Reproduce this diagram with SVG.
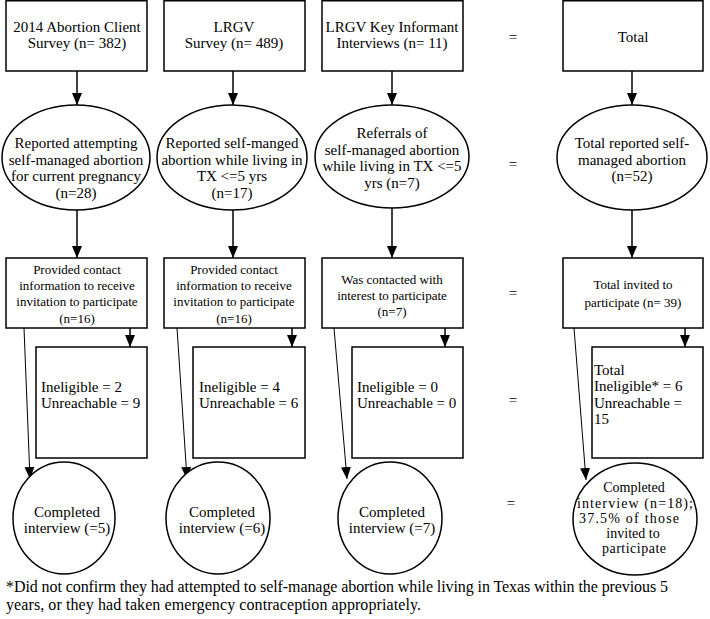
<svg xmlns="http://www.w3.org/2000/svg" width="710" height="619" viewBox="0 0 710 619">
<style>
  .box { fill: #fff; stroke: #000; stroke-width: 1.5; }
  .t { font-family: "Liberation Serif", "DejaVu Serif", serif; font-size: 15px; fill: #000; text-anchor: middle; }
  .s { font-size: 13px; }
  .m { font-size: 14px; }
  .f { font-size: 16px; }
  .l { text-anchor: start; }
  .c { stroke: #000; stroke-width: 1.5; fill: none; marker-end: url(#ah); }
  .d { stroke: #000; stroke-width: 1; fill: none; marker-end: url(#ah); }
</style>
<defs>
  <marker id="ah" markerUnits="userSpaceOnUse" markerWidth="12" markerHeight="12" viewBox="0 0 12 12" refX="12" refY="6" orient="auto">
    <path d="M0,1 L12,6 L0,11 z" fill="#000"/>
  </marker>
</defs>
<rect width="710" height="619" fill="#fff"/>

<g id="connectors">
  <line class="c" x1="77" y1="71" x2="77" y2="105"/>
  <line class="c" x1="233" y1="71" x2="233" y2="105"/>
  <line class="c" x1="392" y1="71" x2="392" y2="105"/>
  <line class="c" x1="632" y1="71" x2="632" y2="105"/>
  <line class="c" x1="77" y1="210" x2="77" y2="258"/>
  <line class="c" x1="233" y1="210" x2="233" y2="258"/>
  <line class="c" x1="392" y1="208" x2="392" y2="258"/>
  <line class="c" x1="632" y1="210" x2="632" y2="258"/>
  <line class="c" x1="130" y1="328" x2="130" y2="347"/>
  <line class="c" x1="292" y1="328" x2="292" y2="347"/>
  <line class="c" x1="445" y1="328" x2="445" y2="347"/>
  <line class="c" x1="685" y1="328" x2="685" y2="347"/>
  <line class="d" x1="24" y1="328" x2="30" y2="479"/>
  <line class="d" x1="177" y1="328" x2="187" y2="479"/>
  <line class="d" x1="334" y1="328" x2="347" y2="479"/>
  <line class="d" x1="574" y1="328" x2="586" y2="480"/>
</g>

<g id="n1"><rect class="box" x="6" y="0.75" width="141" height="70.25"/>
  <text class="t" x="77" y="32">2014 Abortion Client</text><text class="t" x="77" y="48">Survey (n= 382)</text></g>
<g id="n2"><rect class="box" x="164" y="0.75" width="141" height="70.25"/>
  <text class="t" x="234" y="32">LRGV</text><text class="t" x="234" y="48">Survey (n= 489)</text></g>
<g id="n3"><rect class="box" x="322" y="0.75" width="141" height="70.25"/>
  <text class="t" x="392" y="32">LRGV Key Informant</text><text class="t" x="392" y="48">Interviews (n= 11)</text></g>
<g id="eq1"><text class="t" x="513" y="42">=</text></g>
<g id="n4"><rect class="box" x="563" y="0.75" width="140" height="70.25"/>
  <text class="t" x="633" y="42">Total</text></g>

<g id="e1"><ellipse class="box" cx="76" cy="157.5" rx="74" ry="52.5"/>
  <text class="t" x="76" y="148">Reported attempting</text>
  <text class="t" x="76" y="164.5">self-managed abortion</text>
  <text class="t" x="76" y="181">for current pregnancy</text>
  <text class="t" x="76" y="197.5">(n=28)</text></g>
<g id="e2"><ellipse class="box" cx="232" cy="157.5" rx="75" ry="52.5"/>
  <text class="t" x="232" y="148">Reported self-manged</text>
  <text class="t" x="232" y="164.5">abortion while living in</text>
  <text class="t" x="232" y="181">TX &lt;=5 yrs</text>
  <text class="t" x="232" y="197.5">(n=17)</text></g>
<g id="e3"><ellipse class="box" cx="392" cy="156.5" rx="77" ry="51.5"/>
  <text class="t" x="392" y="138">Referrals of</text>
  <text class="t" x="392" y="154.5">self-managed abortion</text>
  <text class="t" x="392" y="171">while living in TX &lt;=5</text>
  <text class="t" x="392" y="187.5">yrs (n=7)</text></g>
<g id="eq2"><text class="t" x="513" y="169">=</text></g>
<g id="e4"><ellipse class="box" cx="632" cy="157.5" rx="75" ry="52.5"/>
  <text class="t" x="632" y="148">Total reported self-</text>
  <text class="t" x="632" y="164.5">managed abortion</text>
  <text class="t" x="632" y="181">(n=52)</text></g>

<g id="b1"><rect class="box" x="6" y="258" width="141" height="70"/>
  <text class="t s" x="77" y="274">Provided contact</text>
  <text class="t s" x="77" y="290">information to receive</text>
  <text class="t s" x="77" y="306">invitation to participate</text>
  <text class="t s" x="77" y="323">(n=16)</text></g>
<g id="b2"><rect class="box" x="164" y="258" width="141" height="70"/>
  <text class="t s" x="234" y="274">Provided contact</text>
  <text class="t s" x="234" y="290">information to receive</text>
  <text class="t s" x="234" y="306">invitation to participate</text>
  <text class="t s" x="234" y="323">(n=16)</text></g>
<g id="b3"><rect class="box" x="322" y="258" width="141" height="70"/>
  <text class="t s" x="392" y="284">Was contacted with</text>
  <text class="t s" x="392" y="300">interest to participate</text>
  <text class="t s" x="392" y="316">(n=7)</text></g>
<g id="eq3"><text class="t" x="513" y="298">=</text></g>
<g id="b4"><rect class="box" x="563" y="258" width="140" height="70"/>
  <text class="t s" x="633" y="289">Total invited to</text>
  <text class="t s" x="633" y="307">participate (n= 39)</text></g>

<g id="i1"><rect class="box" x="36" y="347" width="111" height="111"/>
  <text class="t l" x="41" y="392">Ineligible = 2</text>
  <text class="t l" x="41" y="408">Unreachable = 9</text></g>
<g id="i2"><rect class="box" x="193" y="347" width="112" height="111"/>
  <text class="t l" x="199" y="392">Ineligible = 4</text>
  <text class="t l" x="199" y="408">Unreachable = 6</text></g>
<g id="i3"><rect class="box" x="352" y="347" width="111" height="111"/>
  <text class="t l" x="357" y="392">Ineligible = 0</text>
  <text class="t l" x="357" y="408">Unreachable = 0</text></g>
<g id="eq4"><text class="t" x="513" y="405">=</text></g>
<g id="i4"><rect class="box" x="592" y="347" width="111" height="111"/>
  <text class="t l" x="594" y="375">Total</text>
  <text class="t l" x="594" y="391">Ineligible* = 6</text>
  <text class="t l" x="594" y="408">Unreachable =</text>
  <text class="t l" x="594" y="424">15</text></g>

<g id="c1"><ellipse class="box" cx="64" cy="518" rx="51" ry="56"/>
  <text class="t" x="67" y="517">Completed</text>
  <text class="t" x="67" y="533">interview (=5)</text></g>
<g id="c2"><ellipse class="box" cx="218" cy="518" rx="52" ry="56"/>
  <text class="t" x="222" y="517">Completed</text>
  <text class="t" x="222" y="533">interview (=6)</text></g>
<g id="c3"><ellipse class="box" cx="390" cy="518" rx="52" ry="56"/>
  <text class="t" x="392" y="517">Completed</text>
  <text class="t" x="392" y="533">interview (=7)</text></g>
<g id="eq5"><text class="t" x="511" y="508">=</text></g>
<g id="c4"><ellipse class="box" cx="635" cy="519" rx="62" ry="56"/>
  <text class="t m" x="634" y="492">Completed</text>
  <text class="t m" x="635" y="507.5" textLength="116">interview (n=18);</text>
  <text class="t m" x="629" y="523" textLength="100">37.5% of those</text>
  <text class="t m" x="633" y="538">invited to</text>
  <text class="t m" x="634" y="553" textLength="64">participate</text></g>

<g id="footnote">
  <text class="t l f" x="6" y="592" textLength="662">*Did not confirm they had attempted to self-manage abortion while living in Texas within the previous 5</text>
  <text class="t l f" x="6" y="610" textLength="415">years, or they had taken emergency contraception appropriately.</text>
</g>
</svg>
